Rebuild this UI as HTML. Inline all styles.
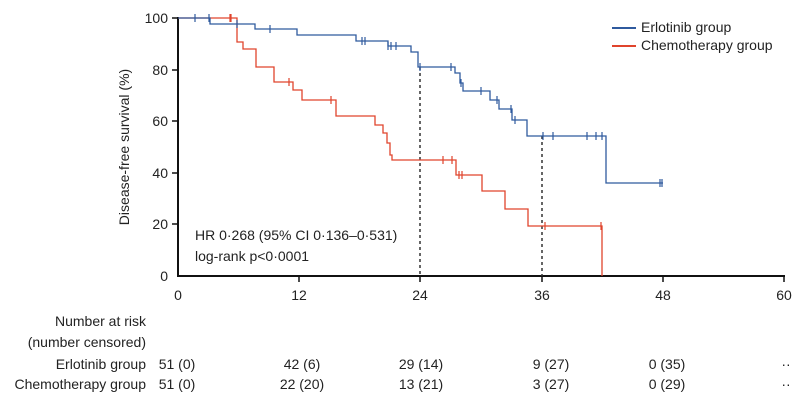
<!DOCTYPE html>
<html><head><meta charset="utf-8"><style>
html,body{margin:0;padding:0;background:#fff}
svg{display:block}
text{font-family:"Liberation Sans Narrow","Liberation Sans",sans-serif;fill:#222}
</style></head><body>
<svg width="800" height="401" viewBox="0 0 800 401" xmlns="http://www.w3.org/2000/svg">
<line x1="178" y1="17" x2="178" y2="277" stroke="#111" stroke-width="2"/>
<line x1="177" y1="276" x2="785" y2="276" stroke="#111" stroke-width="2"/>
<g stroke="#111" stroke-width="1.5">
<line x1="172" y1="18" x2="178" y2="18"/><line x1="172" y1="70" x2="178" y2="70"/><line x1="172" y1="121" x2="178" y2="121"/><line x1="172" y1="173" x2="178" y2="173"/><line x1="172" y1="224" x2="178" y2="224"/>
<line x1="299" y1="276" x2="299" y2="282"/><line x1="420" y1="276" x2="420" y2="282"/><line x1="542" y1="276" x2="542" y2="282"/><line x1="663" y1="276" x2="663" y2="282"/><line x1="784" y1="276" x2="784" y2="282"/>
</g>
<g font-size="14" text-anchor="end">
<text x="168" y="23">100</text><text x="168" y="75">80</text><text x="168" y="126">60</text><text x="168" y="178">40</text><text x="168" y="229">20</text><text x="168" y="281">0</text>
</g>
<g font-size="14" text-anchor="middle">
<text x="178" y="300">0</text><text x="299" y="300">12</text><text x="420" y="300">24</text><text x="542" y="300">36</text><text x="663" y="300">48</text><text x="784" y="300">60</text>
</g>
<text font-size="14" text-anchor="middle" transform="translate(129,147) rotate(-90)">Disease-free survival (%)</text>
<line x1="420" y1="67" x2="420" y2="276" stroke="#333" stroke-width="1.5" stroke-dasharray="3,3"/>
<line x1="542" y1="136" x2="542" y2="276" stroke="#333" stroke-width="1.5" stroke-dasharray="3,3"/>
<polyline fill="none" stroke="#e0442c" stroke-width="1.3" points="178,18 237,18 237,42 243,42 243,49 256,49 256,67 274,67 274,82 293,82 293,90 302,90 302,100 336,100 336,116 375,116 375,125 383,125 383,133 387,133 387,143 390,143 390,155 392,155 392,160 456,160 456,175 482,175 482,191 505,191 505,209 528,209 528,226 602,226 602,276"/>
<polyline fill="none" stroke="#2f5a9e" stroke-width="1.3" points="178,18 210,18 210,24 255,24 255,29 297,29 297,35 356,35 356,41 388,41 388,46 411,46 411,52 418,52 418,67 455,67 455,73 460,73 460,83 463,83 463,91 490,91 490,100 499,100 499,109 512,109 512,120 527,120 527,136 606,136 606,183 663,183"/>
<g stroke="#e0442c" stroke-width="1.2">
<line x1="230" y1="14" x2="230" y2="22"/><line x1="231" y1="14" x2="231" y2="22"/><line x1="289" y1="78" x2="289" y2="86"/><line x1="331" y1="96" x2="331" y2="104"/><line x1="443" y1="156" x2="443" y2="164"/><line x1="452" y1="156" x2="452" y2="164"/><line x1="459" y1="171" x2="459" y2="179"/><line x1="462" y1="171" x2="462" y2="179"/><line x1="545" y1="222" x2="545" y2="230"/><line x1="601" y1="222" x2="601" y2="230"/>
</g>
<g stroke="#2f5a9e" stroke-width="1.2">
<line x1="195" y1="14" x2="195" y2="22"/><line x1="209" y1="14" x2="209" y2="22"/><line x1="237" y1="20" x2="237" y2="28"/><line x1="270" y1="25" x2="270" y2="33"/><line x1="362" y1="37" x2="362" y2="45"/><line x1="365" y1="37" x2="365" y2="45"/><line x1="388" y1="42" x2="388" y2="50"/><line x1="391" y1="42" x2="391" y2="50"/><line x1="396" y1="42" x2="396" y2="50"/><line x1="420" y1="63" x2="420" y2="71"/><line x1="451" y1="63" x2="451" y2="71"/><line x1="461" y1="79" x2="461" y2="87"/><line x1="481" y1="87" x2="481" y2="95"/><line x1="497" y1="96" x2="497" y2="104"/><line x1="511" y1="105" x2="511" y2="113"/><line x1="515" y1="116" x2="515" y2="124"/><line x1="543" y1="132" x2="543" y2="140"/><line x1="553" y1="132" x2="553" y2="140"/><line x1="587" y1="132" x2="587" y2="140"/><line x1="596" y1="132" x2="596" y2="140"/><line x1="602" y1="132" x2="602" y2="140"/><line x1="660" y1="179" x2="660" y2="187"/><line x1="662" y1="179" x2="662" y2="187"/>
</g>
<line x1="612" y1="28" x2="636" y2="28" stroke="#2f5a9e" stroke-width="2"/>
<line x1="612" y1="46" x2="636" y2="46" stroke="#e0442c" stroke-width="2"/>
<text x="641" y="32" font-size="14">Erlotinib group</text>
<text x="641" y="50" font-size="14">Chemotherapy group</text>
<text x="195" y="240" font-size="14">HR 0·268 (95% CI 0·136–0·531)</text>
<text x="195" y="261" font-size="14">log-rank p&lt;0·0001</text>
<g font-size="14" text-anchor="end">
<text x="146" y="326">Number at risk</text>
<text x="146" y="347">(number censored)</text>
<text x="146" y="369">Erlotinib group</text>
<text x="146" y="389">Chemotherapy group</text>
</g>
<g font-size="14" text-anchor="middle">
<text x="177" y="369">51 (0)</text><text x="302" y="369">42 (6)</text><text x="421" y="369">29 (14)</text><text x="551" y="369">9 (27)</text><text x="667" y="369">0 (35)</text><text x="786" y="369">··</text>
<text x="177" y="389">51 (0)</text><text x="302" y="389">22 (20)</text><text x="421" y="389">13 (21)</text><text x="551" y="389">3 (27)</text><text x="667" y="389">0 (29)</text><text x="786" y="389">··</text>
</g>
</svg>
</body></html>
